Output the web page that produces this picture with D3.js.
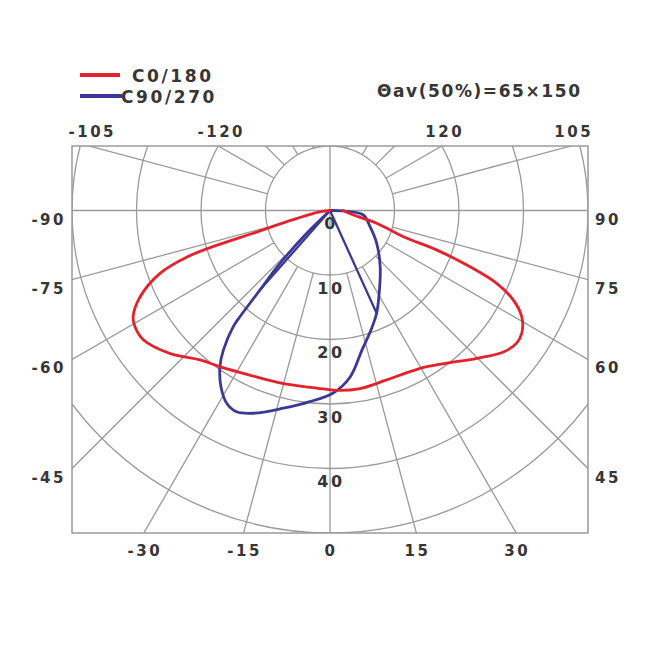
<!DOCTYPE html>
<html><head><meta charset="utf-8">
<script src="https://cdn.jsdelivr.net/npm/d3@7"></script>
<style>body{margin:0;background:#fff}svg{display:block}</style>
</head><body>
<svg id="chart" width="650" height="650"></svg>
<script>
// ---------------- data ----------------
const seriesNames = ["C0/180", "C90/270"];
const seriesColors = ["#e3222e", "#3a3a96"];

// C0/180 : polar angle (deg, 0 = nadir, + to the right) and intensity
const c0Angles = [-90, -83, -75.5, -73.5, -73, -72, -69.7, -65.6, -61.6, -59.2, -55.3, -48.3, -41, -35, -26, -15, -4.3, 2, 9.6, 18.5, 26.4, 31.8, 37.4, 44.8, 50.8, 54.6, 57.4, 61, 64, 66.4, 68.1, 69.7, 70.3, 74.7, 79, 90];
const c0Values = [0, 1.5, 6.9, 12.4, 17.8, 23.3, 28.1, 32.3, 34.7, 35.2, 35.2, 33.3, 30.7, 29.6, 28.4, 27.8, 27.6, 27.9, 28.0, 27.7, 27.9, 28.5, 29.8, 32.3, 34.7, 35.5, 35.3, 34.0, 31.6, 28.2, 23.4, 17.6, 12.1, 7.5, 3.7, 2.0];

// C90/270
const c90Angles = [-47, -45.6, -43.4, -41.4, -40.3, -39.8, -37.4, -35.2, -31.8, -28.2, -24.9, -20.7, -13.3, -6, 1, 6.9, 12.9, 18.9, 24.4, 30.8, 41.7, 54.9, 68, 82.3, 88, 90];
const c90Values = [0, 5.05, 11.3, 16.4, 21.6, 23.4, 27.2, 29.6, 32.1, 33.9, 34.4, 33.6, 31.5, 29.8, 28.3, 26.0, 22.2, 19.6, 17.5, 14.9, 11.7, 8.85, 6.7, 5.2, 2.0, 0];
// straight spokes of the C90/270 trace (from the centre)
const c90SpokeAngles = [24.4, -41.4];
const c90SpokeValues = [17.5, 16.4];

const ringValues = [10, 20, 30, 40, 50];
const ringLabels = ["0", "10", "20", "30", "40"];
const ringLabelValues = [0, 10, 20, 30, 40];
const gridAngles = d3.range(-165, 181, 15);
const angleLabels = [-90, -75, -60, -45, 90, 75, 60, 45, -105, -120, 120, 105, -30, -15, 0, 15, 30];
const titleText = "\u0398av(50%)=65\u00d7150";

// ---------------- layout ----------------
const svg = d3.select("#chart");
const cx = 330, cy = 210.5;
const r = d3.scaleLinear().domain([0, 50]).range([0, 322.5]);
const box = { left: cx - r(40), right: cx + r(40), top: cy - r(10), bottom: cy + r(50) };
const rad = d => d * Math.PI / 180;
const gridColor = "#9a9a9a";
const textColor = "#363636";
const font = "'DejaVu Sans', Verdana, sans-serif";

svg.append("defs").append("clipPath").attr("id", "boxclip")
  .append("rect").attr("x", box.left).attr("y", box.top)
  .attr("width", box.right - box.left).attr("height", box.bottom - box.top);

const grid = svg.append("g").attr("clip-path", "url(#boxclip)");
grid.selectAll("circle").data(ringValues).join("circle")
  .attr("cx", cx).attr("cy", cy).attr("r", d => r(d))
  .attr("fill", "none").attr("stroke", gridColor).attr("stroke-width", 1.3);
grid.selectAll("line").data(gridAngles).join("line")
  .attr("x1", d => cx + (d % 90 === 0 ? 0 : r(10)) * Math.sin(rad(d)))
  .attr("y1", d => cy + (d % 90 === 0 ? 0 : r(10)) * Math.cos(rad(d)))
  .attr("x2", d => cx + r(120) * Math.sin(rad(d)))
  .attr("y2", d => cy + r(120) * Math.cos(rad(d)))
  .attr("stroke", gridColor).attr("stroke-width", 1.3);

svg.append("rect").attr("x", box.left).attr("y", box.top)
  .attr("width", box.right - box.left).attr("height", box.bottom - box.top)
  .attr("fill", "none").attr("stroke", gridColor).attr("stroke-width", 1.5);

// angle labels: where each ray meets the frame
function rayHit(a) {
  const s = Math.sin(rad(a)), c = Math.cos(rad(a));
  const tx = Math.abs(s) < 1e-9 ? Infinity : ((s > 0 ? box.right : box.left) - cx) / s;
  const ty = Math.abs(c) < 1e-9 ? Infinity : ((c > 0 ? box.bottom : box.top) - cy) / c;
  const t = Math.min(tx, ty);
  return { x: cx + t * s, y: cy + t * c, side: tx <= ty ? (s > 0 ? "right" : "left") : (c > 0 ? "bottom" : "top") };
}
const lab = svg.append("g").attr("font-family", font).attr("font-weight", "bold")
  .attr("font-size", 15).attr("fill", textColor).attr("letter-spacing", 2.5);
angleLabels.forEach(a => {
  const h = rayHit(a);
  let x = h.x, y = h.y, anchor = "middle";
  if (h.side === "left") { x = box.left - 6; y = h.y + 9; anchor = "end"; }
  else if (h.side === "right") { x = box.right + 7; y = h.y + 9; anchor = "start"; }
  else if (h.side === "top") { x = h.x + 3; y = box.top - 14; }
  else { x = h.x + 1; y = box.bottom + 18; }
  lab.append("text").attr("x", x).attr("y", y).attr("text-anchor", anchor)
    .attr("dominant-baseline", "central").text(a);
});
// ring value labels on the nadir axis
lab.selectAll("text.ring").data(ringLabelValues).join("text").attr("class", "ring")
  .attr("x", cx + 1).attr("y", d => cy + r(d) + 13)
  .attr("text-anchor", "middle").attr("dominant-baseline", "central")
  .attr("font-size", 16).text((d, i) => ringLabels[i]);

// ---------------- curves ----------------
const radial = d3.lineRadial()
  .angle(d => Math.PI - rad(d[0]))
  .radius(d => r(d[1]))
  .curve(d3.curveCatmullRom.alpha(0.5));
const plot = svg.append("g").attr("transform", `translate(${cx},${cy})`)
  .attr("fill", "none").attr("stroke-linejoin", "round").attr("stroke-linecap", "round");

const c0 = c0Angles.map((a, i) => [a, c0Values[i]]);
const c90 = c90Angles.map((a, i) => [a, c90Values[i]]);
plot.append("path").attr("d", radial(c90)).attr("stroke", seriesColors[1]).attr("stroke-width", 2.8);
c90SpokeAngles.forEach((a, i) => {
  plot.append("path").attr("d", d3.lineRadial().angle(d => Math.PI - rad(d[0])).radius(d => r(d[1]))([[a, 0], [a, c90SpokeValues[i]]]))
    .attr("stroke", seriesColors[1]).attr("stroke-width", 2.3);
});
plot.append("path").attr("d", radial(c0)).attr("stroke", seriesColors[0]).attr("stroke-width", 2.8);

// ---------------- legend & title ----------------
const leg = svg.append("g").attr("font-family", font).attr("font-weight", "bold")
  .attr("font-size", 17).attr("fill", textColor).attr("letter-spacing", 2.6);
const legY = [75, 96], legTextX = [132, 121], legLineX2 = [120, 122];
seriesNames.forEach((n, i) => {
  leg.append("line").attr("x1", 80).attr("x2", legLineX2[i]).attr("y1", legY[i]).attr("y2", legY[i])
    .attr("stroke", seriesColors[i]).attr("stroke-width", 4);
  leg.append("text").attr("x", legTextX[i]).attr("y", legY[i] + 7).text(n);
});
svg.append("text").attr("x", 377).attr("y", 96.5).attr("font-family", font).attr("font-weight", "bold")
  .attr("font-size", 17).attr("fill", textColor).attr("textLength", 203)
  .attr("lengthAdjust", "spacing").text(titleText);
</script>
</body></html>
